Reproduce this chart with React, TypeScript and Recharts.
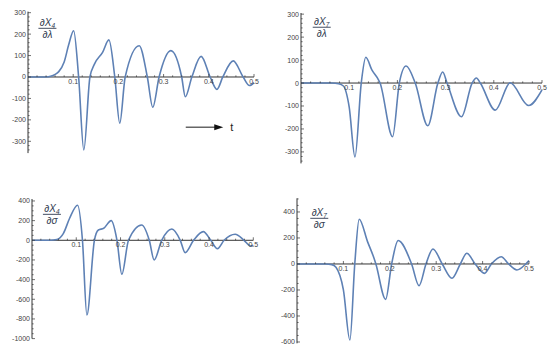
import React from 'react'
import { LineChart, Line, XAxis, YAxis, ReferenceLine, ReferenceDot } from 'recharts'

// time points + values (extrema, zero crossings, a few in between)
const tX4Lambda = [0, 0.04, 0.05, 0.06, 0.068, 0.08, 0.09, 0.101, 0.112, 0.1235, 0.137, 0.147, 0.165, 0.179, 0.192, 0.203, 0.215, 0.246, 0.264, 0.276, 0.29, 0.316, 0.34, 0.348, 0.3625, 0.383, 0.403, 0.418, 0.431, 0.454, 0.476, 0.49, 0.5]
const vX4Lambda = [0, 0, 3, 12, 25, 70, 150, 216, 0, -340, 0, 60, 115, 173, 0, -216, 0, 146, 0, -141, 0, 123, 0, -92, 0, 96, 0, -58, 0, 75, 0, -40, -26]

const tX7Lambda = [0, 0.064, 0.078, 0.088, 0.1, 0.112, 0.125, 0.1345, 0.147, 0.161, 0.164, 0.19, 0.204, 0.218, 0.237, 0.263, 0.284, 0.294, 0.303, 0.333, 0.355, 0.364, 0.372, 0.403, 0.434, 0.472, 0.5]
const vX7Lambda = [0, 0, -3, -13, -105, -322, 0, 112, 57, 13, 0, -234, 0, 74, 0, -186, 0, 48, 0, -147, 0, 22, 0, -118, 1, -98, -30]

const tX4Sigma = [0, 0.041, 0.056, 0.071, 0.085, 0.103, 0.114, 0.124, 0.141, 0.15, 0.162, 0.179, 0.192, 0.203, 0.218, 0.248, 0.265, 0.276, 0.293, 0.316, 0.335, 0.346, 0.365, 0.387, 0.404, 0.419, 0.434, 0.459, 0.479, 0.494, 0.5]
const vX4Sigma = [0, 0, 8, 71, 224, 356, 0, -760, 0, 105, 122, 200, 0, -346, 0, 156, 0, -200, 0, 115, 0, -125, 0, 88, 0, -85, 0, 61, 0, -58, -50]

const tX7Sigma = [0, 0.062, 0.075, 0.084, 0.1, 0.114, 0.1245, 0.134, 0.152, 0.166, 0.17, 0.191, 0.204, 0.218, 0.247, 0.263, 0.278, 0.293, 0.313, 0.334, 0.352, 0.366, 0.384, 0.404, 0.419, 0.44, 0.456, 0.474, 0.493, 0.5]
const vX7Sigma = [0, 0, -5, -26, -200, -585, 0, 344, 172, 44, 0, -272, 0, 180, 0, -167, 0, 115, 0, -110, 0, 82, 0, -72, 0, 56, 0, -46, 0, 26]

const xMajors = [0.1, 0.2, 0.3, 0.4, 0.5]
const xMinors = [0.02, 0.04, 0.06, 0.08, 0.12, 0.14, 0.16, 0.18, 0.22, 0.24, 0.26, 0.28, 0.32, 0.34, 0.36, 0.38, 0.42, 0.44, 0.46, 0.48]

const yMajorsLambda = [-300, -200, -100, 0, 100, 200, 300]
const yMajorsX4Sigma = [-1000, -800, -600, -400, -200, 0, 200, 400]
const yMajorsX7Sigma = [-600, -400, -200, 0, 200, 400]

const BLUE = '#5E81B5'
const AXIS = '#333'
const TICKTXT = '#444'
const LABEL = '#2f3a4f'
const FONT = '"Liberation Sans", Arial, sans-serif'

function withMinors(majors: number[], step: number, lo: number, hi: number) {
  const out: number[] = []
  for (let v = Math.ceil(lo / step) * step; v <= hi; v += step) out.push(Math.round(v))
  majors.forEach(m => { if (!out.includes(m)) out.push(m) })
  return out.sort((a, b) => a - b)
}

const YTick = (props: any) => {
  const { x, y, payload, majors } = props
  const major = majors.includes(payload.value)
  return (
    <g>
      <line x1={x} x2={x + (major ? 3 : 1.6)} y1={y} y2={y} stroke={AXIS} strokeWidth={0.7} />
      {major && (
        <text x={x - 2} y={y} dy={2.5} textAnchor="end" fontSize={7} fill={TICKTXT} fontFamily={FONT}>
          {payload.value}
        </text>
      )}
    </g>
  )
}

const XTickMark = (props: any) => {
  const { cx, cy, major, text } = props
  return (
    <g>
      <line x1={cx} x2={cx} y1={cy} y2={cy - (major ? 3 : 1.6)} stroke={AXIS} strokeWidth={0.7} />
      {text && (
        <text x={cx} y={cy + 7} textAnchor="middle" fontSize={7} fill={TICKTXT} fontFamily={FONT}>
          {text}
        </text>
      )}
    </g>
  )
}

const Fraction = (props: any) => {
  const { cx, cy, sub, den } = props
  return (
    <g fill={LABEL} fontFamily={FONT} fontStyle="italic">
      <text x={cx} y={cy - 2} textAnchor="middle" fontSize={10}>
        ∂X<tspan fontSize={6.5} dy={2}>{sub}</tspan>
      </text>
      <line x1={cx - 9} x2={cx + 9} y1={cy} y2={cy} stroke={LABEL} strokeWidth={0.9} />
      <text x={cx} y={cy + 10} textAnchor="middle" fontSize={10}>∂{den}</text>
    </g>
  )
}

const ArrowHead = (props: any) => {
  const { cx, cy } = props
  return (
    <g>
      <path d={`M${cx},${cy} L${cx - 9},${cy - 3} L${cx - 9},${cy + 3} Z`} fill="#111" />
      <text x={cx + 7} y={cy + 4} fontSize={11} fill="#222" fontFamily={FONT}>t</text>
    </g>
  )
}

interface PanelProps {
  left: number
  top: number
  width: number
  height: number
  margin: { top: number; right: number; bottom: number; left: number }
  yWidth: number
  yDomain: [number, number]
  yMajors: number[]
  yMinorStep: number
  t: number[]
  v: number[]
  sub: string
  den: string
  labelAt: [number, number]
  arrow?: boolean
}

function Panel(p: PanelProps) {
  const data = p.t.map((x, i) => ({ t: x, v: p.v[i] }))
  const yTicks = withMinors(p.yMajors, p.yMinorStep, p.yDomain[0], p.yDomain[1])
  return (
    <div style={{ position: 'absolute', left: p.left, top: p.top }}>
      <LineChart width={p.width} height={p.height} data={data} margin={p.margin}>
        <XAxis dataKey="t" type="number" domain={[0, 0.5]} hide />
        <YAxis
          type="number"
          domain={p.yDomain}
          allowDataOverflow
          ticks={yTicks}
          interval={0}
          width={p.yWidth}
          tickSize={0}
          tickMargin={0}
          tickLine={false}
          axisLine={{ stroke: AXIS, strokeWidth: 1 }}
          tick={<YTick majors={p.yMajors} />}
        />
        <ReferenceLine y={0} stroke={AXIS} strokeWidth={1} />
        {xMinors.map(x => (
          <ReferenceDot key={'m' + x} x={x} y={0} r={0} shape={(s: any) => <XTickMark {...s} major={false} />} />
        ))}
        {xMajors.map(x => (
          <ReferenceDot key={'M' + x} x={x} y={0} r={0} shape={(s: any) => <XTickMark {...s} major text={String(x)} />} />
        ))}
        <Line type="monotone" dataKey="v" stroke={BLUE} strokeWidth={1.6} dot={false} isAnimationActive={false} />
        <ReferenceDot x={p.labelAt[0]} y={p.labelAt[1]} r={0} shape={(s: any) => <Fraction {...s} sub={p.sub} den={p.den} />} />
        {p.arrow && (
          <ReferenceLine segment={[{ x: 0.349, y: -235 }, { x: 0.425, y: -235 }]} stroke="#666" strokeWidth={1.5} />
        )}
        {p.arrow && <ReferenceDot x={0.432} y={-235} r={0} shape={(s: any) => <ArrowHead {...s} />} />}
      </LineChart>
    </div>
  )
}

export default function App() {
  return (
    <div style={{ position: 'absolute', left: 0, top: 0, width: 550, height: 353, background: '#fff', overflow: 'hidden' }}>
      <Panel
        left={0} top={0} width={275} height={170}
        margin={{ top: 11.6, right: 21, bottom: 16.9, left: 0 }}
        yWidth={28} yDomain={[-355, 305]} yMajors={yMajorsLambda} yMinorStep={20}
        t={tX4Lambda} v={vX4Lambda} sub="4" den="λ" labelAt={[0.043, 227]} arrow
      />
      <Panel
        left={275} top={0} width={275} height={175}
        margin={{ top: 13, right: 8, bottom: 11.6, left: 0 }}
        yWidth={26} yDomain={[-350, 305]} yMajors={yMajorsLambda} yMinorStep={20}
        t={tX7Lambda} v={vX7Lambda} sub="7" den="λ" labelAt={[0.043, 243]}
      />
      <Panel
        left={0} top={180} width={275} height={173}
        margin={{ top: 19, right: 21.7, bottom: 14.4, left: 0 }}
        yWidth={32} yDomain={[-1000, 420]} yMajors={yMajorsX4Sigma} yMinorStep={50}
        t={tX4Sigma} v={vX4Sigma} sub="4" den="σ" labelAt={[0.045, 264]}
      />
      <Panel
        left={275} top={180} width={275} height={173}
        margin={{ top: 18.3, right: 21, bottom: 9.7, left: 0 }}
        yWidth={22} yDomain={[-610, 505]} yMajors={yMajorsX7Sigma} yMinorStep={50}
        t={tX7Sigma} v={vX7Sigma} sub="7" den="σ" labelAt={[0.048, 351]}
      />
    </div>
  )
}
